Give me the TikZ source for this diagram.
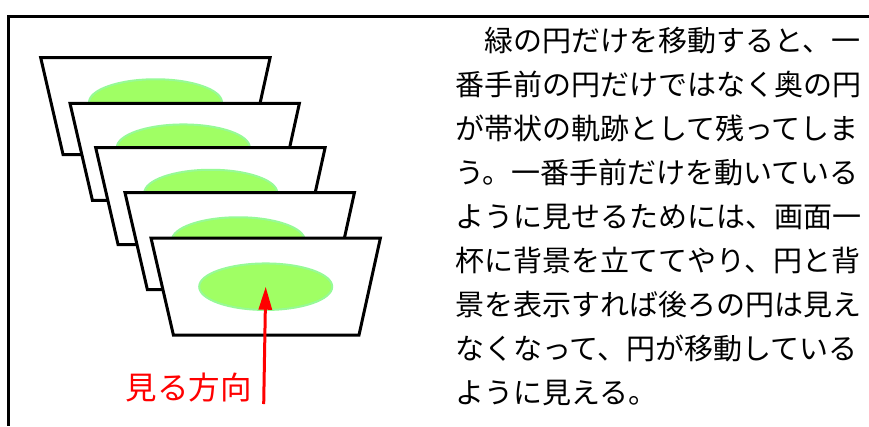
\documentclass[tikz,border=0pt]{standalone}
\usepackage{fontspec}
\newfontfamily\jpfont{Noto Sans CJK JP}
\usetikzlibrary{arrows.meta,shapes.geometric}
\definecolor{discfill}{RGB}{160,255,100}
\definecolor{discedge}{RGB}{150,250,150}
\definecolor{arrred}{RGB}{255,0,0}
\tikzset{
  frameline/.style={line width=3pt,draw=black},
  screen/.style={line width=3pt,draw=black,fill=white,line join=miter},
  disc/.style={fill=discfill,draw=discedge,line width=2pt},
  bodytext/.style={font=\jpfont\fontsize{29}{29}\selectfont,anchor=base west,inner sep=0pt},
  viewlabel/.style={font=\jpfont\fontsize{31.5}{31.5}\selectfont,text=arrred,anchor=base east,inner sep=0pt},
  viewarrow/.style={draw=arrred,line width=3pt,-{Triangle[length=23pt,width=13pt]}}
}
\begin{document}
\begin{tikzpicture}[x=1pt,y=-1pt]
\useasboundingbox (0,0) rectangle (869,426);
% frame
\coordinate (fa) at (869,16);
\coordinate (fb) at (8.7,16);
\coordinate (fc) at (8.7,426);
\draw[frameline] (fa) -- (fb) -- (fc);
% screens
\foreach \i/\x/\y/\ex/\ey in {1/40.7/57.7/155.5/102.5, 2/70/103.3/183.3/147.7, 3/95.7/147.7/210.8/193, 4/125/192.7/238.3/240.5, 5/151/238/265.7/286.7}{
  \draw[screen] (\x,\y) -- ++(229.4,0) -- ++(-21.4,97) -- ++(-185.6,0) -- cycle;
  \node[disc,ellipse,minimum width=133pt,minimum height=46.5pt,inner sep=0pt] (d\i) at (\ex,\ey) {};
}
% viewing direction
\node[viewlabel] (lbl) at (252,399.5) {見る方向};
\coordinate (as) at (263.7,404);
\draw[viewarrow] (as) -- (d5.center);
% text
\foreach \i/\t in {1/{　緑の円だけを移動すると、一},2/{番手前の円だけではなく奥の円},3/{が帯状の軌跡として残ってしま},4/{う。一番手前だけを動いている},5/{ように見せるためには、画面一},6/{杯に背景を立ててやり、円と背},7/{景を表示すれば後ろの円は見え},8/{なくなって、円が移動している},9/{ように見える。}}{
  \node[bodytext] (t\i) at (455,{51+44.1*(\i-1)}) {\t};
}
\end{tikzpicture}
\end{document}
